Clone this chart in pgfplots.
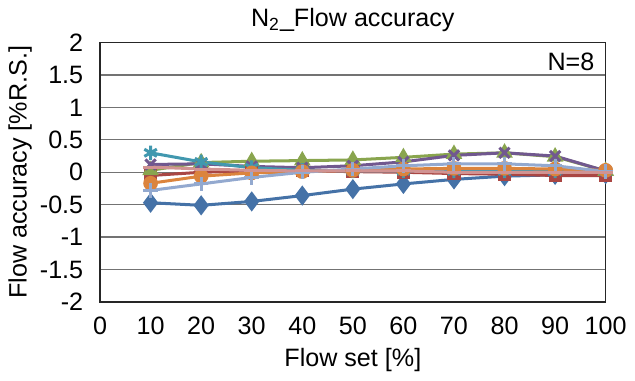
\documentclass[border=0pt]{standalone}
\usepackage{pgfplots}
\pgfplotsset{compat=1.18}
\usepackage{fontspec}
\setmainfont{Liberation Sans}
\definecolor{c1}{HTML}{4572A7}
\definecolor{c2}{HTML}{AA4643}
\definecolor{c3}{HTML}{89A54E}
\definecolor{c4}{HTML}{71588F}
\definecolor{c5}{HTML}{4198AF}
\definecolor{c6}{HTML}{DB843D}
\definecolor{c7}{HTML}{93A9CF}
\definecolor{c8}{HTML}{D19392}
\begin{document}
\fontsize{12.5}{14}\selectfont
\begin{tikzpicture}
\begin{axis}[
  scale only axis, width=251.5pt, height=129pt,
  xmin=0, xmax=100, ymin=-2, ymax=2,
  xtick={0,10,...,100}, ytick={-2,-1.5,...,2},
  yticklabels={-2,-1.5,-1,-0.5,0,0.5,1,1.5,2},
  /pgf/number format/assume math mode=true,
  major tick length=0pt,
  ymajorgrids, grid style={black!55, line width=0.6pt},
  axis line style={black!85, line width=0.7pt},
  tick label style={font=\fontsize{12.5}{14}\selectfont},
  yticklabel style={xshift=-4pt},
  xticklabel style={yshift=-3pt},
  xlabel={Flow set [\%]}, ylabel={Flow accuracy [\%R.S.]},
  label style={font=\fontsize{12.5}{14}\selectfont},
  title={N\textsubscript{2}\_Flow accuracy},
  title style={font=\fontsize{12.5}{14}\selectfont, yshift=-5pt},
  xlabel style={yshift=1.5pt}, ylabel style={yshift=-4.5pt},
  every axis plot/.append style={line width=1.5pt},
  clip=false,
]
\addplot[c1, mark=diamond*, mark size=3.8pt] coordinates {(10,-0.47)(20,-0.51)(30,-0.45)(40,-0.36)(50,-0.26)(60,-0.18)(70,-0.11)(80,-0.06)(90,-0.04)(100,-0.03)};
\addplot[c2, mark=square*, mark size=2.5pt] coordinates {(10,-0.05)(20,0.0)(30,0.02)(40,0.02)(50,0.01)(60,0.0)(70,-0.02)(80,-0.03)(90,-0.05)(100,-0.05)};
\addplot[c3, mark=triangle*, mark size=3.3pt] coordinates {(10,0.03)(20,0.15)(30,0.17)(40,0.18)(50,0.19)(60,0.23)(70,0.28)(80,0.30)(90,0.24)(100,0.02)};
\addplot[c4, mark=x, mark size=3.6pt] coordinates {(10,0.12)(20,0.13)(30,0.09)(40,0.07)(50,0.10)(60,0.16)(70,0.26)(80,0.30)(90,0.25)(100,0.02)};
\addplot[c5, mark=asterisk, mark size=3.6pt] coordinates {(10,0.30)(20,0.16)(30,0.07)(40,0.03)(50,0.02)(60,0.02)(70,0.02)(80,0.02)(90,0.02)(100,0.02)};
\addplot[c6, mark=*, mark size=2.9pt] coordinates {(10,-0.17)(20,-0.06)(30,-0.01)(40,0.01)(50,0.03)(60,0.05)(70,0.06)(80,0.06)(90,0.05)(100,0.03)};
\addplot[c7, mark=+, mark size=3.6pt] coordinates {(10,-0.28)(20,-0.18)(30,-0.08)(40,0.0)(50,0.05)(60,0.10)(70,0.13)(80,0.13)(90,0.10)(100,0.01)};
\addplot[c8, mark=-, mark size=3.6pt] coordinates {(10,0.08)(20,0.05)(30,0.03)(40,0.02)(50,0.02)(60,0.02)(70,0.0)(80,0.0)(90,0.0)(100,0.0)};
\node[anchor=north east, font=\fontsize{12.5}{14}\selectfont] at (rel axis cs:0.995,0.995) {N=8};
\end{axis}
\end{tikzpicture}
\end{document}
